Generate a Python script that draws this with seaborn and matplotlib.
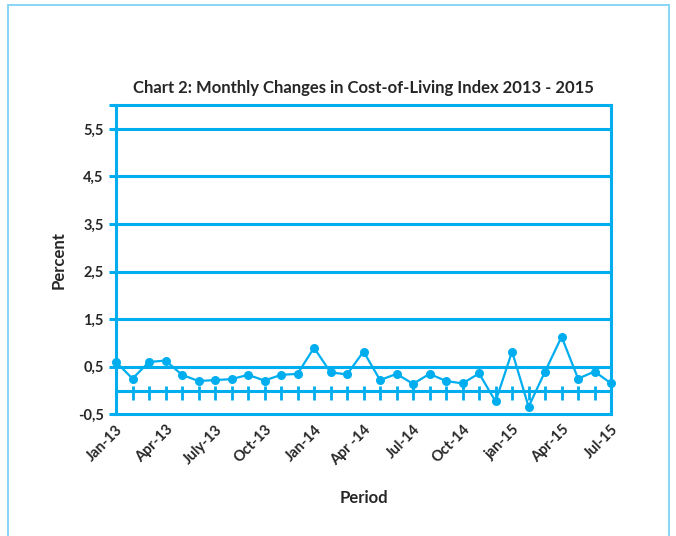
import numpy as np
import pandas as pd
import matplotlib.pyplot as plt
import matplotlib.patches as mpatches
import seaborn as sns

# monthly change in cost-of-living index, Jan-13 .. Jul-15
valores_2013 = [0.60, 0.25, 0.60, 0.63, 0.33, 0.20, 0.22, 0.24, 0.33, 0.21, 0.33, 0.35]
valores_2014 = [0.90, 0.38, 0.34, 0.82, 0.22, 0.35, 0.14, 0.35, 0.20, 0.15, 0.36, -0.23]
valores_2015 = [0.82, -0.34, 0.40, 1.13, 0.25, 0.40, 0.15]

etiquetas_x = ['Jan-13', 'Apr-13', 'July-13', 'Oct-13', 'Jan-14', 'Apr -14',
               'Jul-14', 'Oct-14', 'jan-15', 'Apr-15', 'Jul-15']
ticks_y = [-0.5, 0.5, 1.5, 2.5, 3.5, 4.5, 5.5]

azul = '#00AEEF'

sns.set_style('white')
plt.rcParams['font.family'] = ['Lato', 'DejaVu Sans']

valores = valores_2013 + valores_2014 + valores_2015
df = pd.DataFrame({'mes': np.arange(len(valores)), 'cambio': valores})

fig = plt.figure(figsize=(6.76, 5.36), dpi=100)
ax = fig.add_axes([0.1716, 0.227, 0.7324, 0.577])

# outer light-blue frame of the figure
fig.patches.append(mpatches.Rectangle((0.012, -0.05), 0.978, 1.04, transform=fig.transFigure,
                                      fill=False, edgecolor='#7DD3F5', linewidth=1.3))

# horizontal gridlines
for v in ticks_y[1:]:
    ax.axhline(v, color=azul, linewidth=2.2, zorder=1)

# category axis crossing at zero with cross tick marks
ax.axhline(0, color=azul, linewidth=2.2, zorder=1)
ax.vlines(df['mes'], -0.19, 0.1, color=azul, linewidth=2.0, zorder=1)

sns.lineplot(data=df, x='mes', y='cambio', ax=ax, color=azul, linewidth=1.6,
             marker='o', markersize=6.5, markeredgewidth=0, zorder=3, clip_on=False)

ax.set_xlim(0, len(valores) - 1)
ax.set_ylim(-0.5, 6.0)

ax.set_yticks(ticks_y + [6.0])
ax.set_yticklabels([f'{v:.1f}'.replace('.', ',') for v in ticks_y] + [''],
                   fontweight='bold', fontsize=10.5)
ax.tick_params(axis='y', length=5, width=2.2, color=azul, left=True, pad=4)

ax.set_xticks(np.arange(0, len(valores), 3))
ax.set_xticklabels(etiquetas_x, rotation=45, ha='right', rotation_mode='anchor',
                   fontweight='bold', fontsize=10.5)
ax.tick_params(axis='x', length=0, pad=6)

for lado in ['left', 'right', 'top', 'bottom']:
    ax.spines[lado].set_color(azul)
    ax.spines[lado].set_linewidth(2.2)

ax.set_title('Chart 2: Monthly Changes in Cost-of-Living Index 2013 - 2015',
             fontweight='bold', fontsize=12, pad=9)
ax.set_ylabel('Percent', fontweight='bold', fontsize=12, labelpad=8)
ax.set_xlabel('Period', fontweight='bold', fontsize=12, labelpad=16)

fig.savefig('out.png', dpi=100)
